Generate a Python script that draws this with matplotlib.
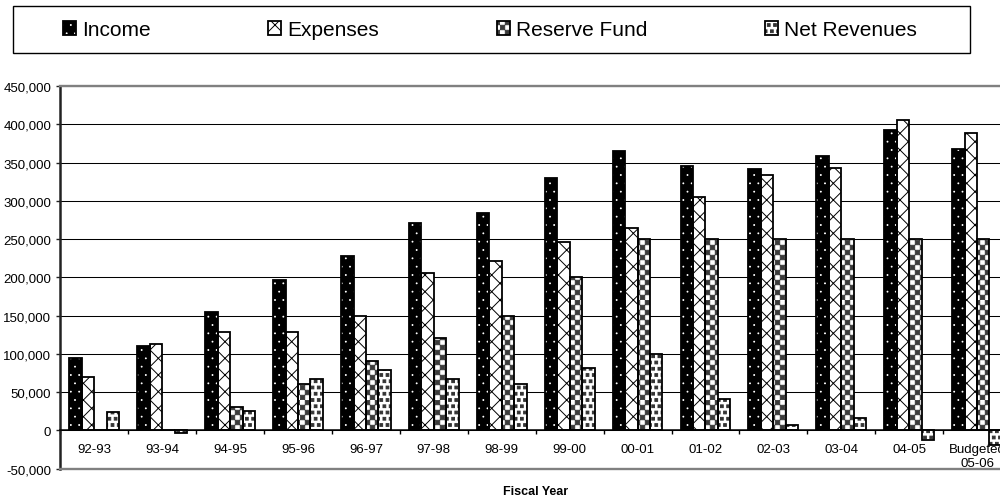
import numpy as np
import matplotlib
matplotlib.use("Agg")
import matplotlib.pyplot as plt
import matplotlib.hatch as mhatch
from matplotlib.path import Path
from matplotlib.patches import Rectangle
from matplotlib.ticker import FixedLocator, FuncFormatter
from matplotlib.legend_handler import HandlerTuple

# ---------------- data ----------------
categories = ['92-93', '93-94', '94-95', '95-96', '96-97', '97-98', '98-99',
              '99-00', '00-01', '01-02', '02-03', '03-04', '04-05', 'Budgeted\n05-06']
income = [95000, 110000, 154500, 196000, 227500, 271000, 284000,
          329500, 364500, 346000, 341500, 358500, 393000, 368000]
expenses = [70000, 113000, 129000, 129000, 150000, 205500, 221500,
            246000, 265000, 305500, 334000, 342500, 405000, 388500]
reserve = [0, 0, 30000, 60000, 90000, 120000, 150000,
           200000, 250000, 250000, 250000, 250000, 250000, 250000]
net = [24000, -4000, 25500, 67000, 78500, 67000, 61000,
       82000, 99500, 40500, 7500, 16500, -13000, -19000]
series_names = ['Income', 'Expenses', 'Reserve Fund', 'Net Revenues']
y_ticks = list(range(-50000, 450001, 50000))


# ---------------- custom hatch patterns ----------------
class CheckerHatch(mhatch.HatchPatternBase):
    """Checkerboard pattern, triggered by '*'."""
    def __init__(self, hatch, density):
        self.n = hatch.count('*') * 20
        self.num_vertices = (self.n * self.n // 2) * 5 if self.n else 0

    def set_vertices_and_codes(self, vertices, codes):
        n = self.n
        s = 1.0 / n
        sh = 0.06 * s
        k = 0
        for i in range(n):
            for j in range(n):
                if (i + j) % 2 == 0:
                    x0, y0 = i * s + sh, j * s + sh
                    x1, y1 = (i + 1) * s - sh, (j + 1) * s - sh
                    vertices[k:k + 5] = [(x0, y0), (x1, y0), (x1, y1), (x0, y1), (x0, y0)]
                    codes[k:k + 5] = [Path.MOVETO, Path.LINETO, Path.LINETO,
                                      Path.LINETO, Path.CLOSEPOLY]
                    k += 5


class SquareDots(mhatch.Shapes):
    """Staggered small filled squares, triggered by 'O'."""
    size = 0.22
    filled = True

    def __init__(self, hatch, density):
        self.num_rows = hatch.count('O') * 16
        self.shape_vertices = np.array([(-1, -1), (1, -1), (1, 1), (-1, 1), (-1, -1)], float)
        self.shape_codes = np.array([Path.MOVETO, Path.LINETO, Path.LINETO,
                                     Path.LINETO, Path.CLOSEPOLY], dtype=Path.code_type)
        super().__init__(hatch, density)


for idx, ht in enumerate(list(mhatch._hatch_types)):
    if ht is mhatch.Stars:
        mhatch._hatch_types[idx] = CheckerHatch
    elif ht is mhatch.LargeCircles:
        mhatch._hatch_types[idx] = SquareDots
mhatch.SmallFilledCircles.size = 0.055

plt.rcParams['font.family'] = ['Liberation Sans', 'DejaVu Sans']
plt.rcParams['hatch.linewidth'] = 0.7

# ---------------- figure ----------------
fig = plt.figure(figsize=(10, 5.02), dpi=100)
ax = fig.add_axes([0.0604, 0.0647, 0.9506, 0.762])

x = np.arange(len(categories))
bw = 0.183
styles = [
    dict(face='black', hcol='white', hatch='..'),
    dict(face='white', hcol='black', hatch='xx'),
    dict(face='white', hcol='#3a3a3a', hatch='*'),
    dict(face='white', hcol='#333333', hatch='O'),
]
data = [income, expenses, reserve, net]
handles = []
for k, (vals, st) in enumerate(zip(data, styles)):
    pos = x + (k - 1.5) * bw
    hb = ax.bar(pos, vals, width=bw, facecolor=st['face'], edgecolor=st['hcol'],
                hatch=st['hatch'], linewidth=0, zorder=2)
    ob = ax.bar(pos, vals, width=bw, fill=False, edgecolor='black',
                linewidth=1.3, zorder=3)
    handles.append((hb.patches[0], ob.patches[0]))

ax.set_xlim(-0.5, len(categories) - 0.5)
ax.set_ylim(-50000, 450000)

# grid
ax.set_axisbelow(True)
ax.yaxis.grid(True, color='black', linewidth=0.75)
ax.xaxis.grid(False)

# spines
ax.spines['right'].set_visible(False)
ax.spines['top'].set_color('#808080')
ax.spines['top'].set_linewidth(1.7)
ax.spines['left'].set_color('#222222')
ax.spines['left'].set_linewidth(1.8)
ax.spines['bottom'].set_position(('data', 0))
ax.spines['bottom'].set_color('black')
ax.spines['bottom'].set_linewidth(1.1)
ax.spines['bottom'].set_zorder(4)
ax.axhline(-50000, color='#808080', linewidth=1.7, clip_on=False, zorder=4)

# ticks
ax.set_yticks(y_ticks)
ax.yaxis.set_major_formatter(FuncFormatter(lambda v, p: f"{int(v):,}"))
ax.tick_params(axis='y', which='major', length=3, width=1, direction='out',
               pad=3.6, labelsize=9.5, color='#222222')
ax.set_xticks(x)
ax.set_xticklabels(categories)
ax.xaxis.set_minor_locator(FixedLocator(np.arange(len(categories) + 1) - 0.5))
ax.tick_params(axis='x', which='major', length=0, pad=9, labelsize=9.5)
ax.tick_params(axis='x', which='minor', length=3, width=1, direction='out', color='black')
for lab in ax.get_xticklabels():
    lab.set_linespacing(1.25)

fig.text(0.536, 1 - 492 / 502, 'Fiscal Year', ha='center', va='center',
         fontsize=9, fontweight='bold')

# legend box + legend
fig.patches.append(Rectangle((0.0127, 1 - 54 / 502), 0.9573, 46.7 / 502,
                             transform=fig.transFigure, fill=False,
                             edgecolor='black', linewidth=1.0))
fig.legend(handles, series_names, loc='center', bbox_to_anchor=(0.49, 1 - 31 / 502),
           ncol=4, frameon=False, fontsize=15, handlelength=0.62, handleheight=0.62,
           handletextpad=0.3, columnspacing=5.65, borderaxespad=0, borderpad=0,
           handler_map={tuple: HandlerTuple(ndivide=1, pad=0)})

fig.savefig('out.png', dpi=100)
